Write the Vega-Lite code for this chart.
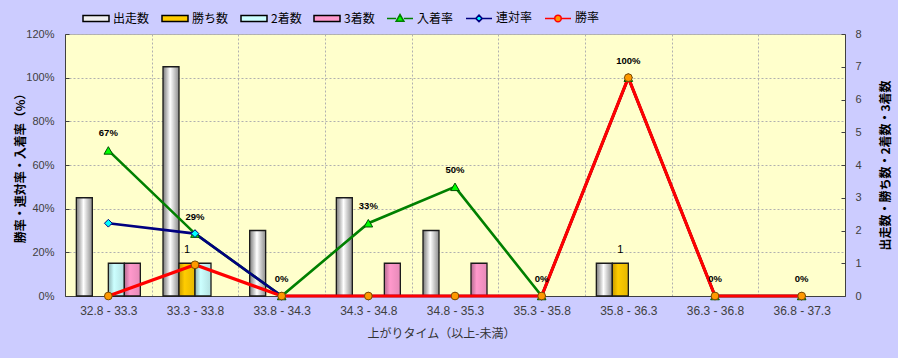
{
  "$schema": "https://vega.github.io/schema/vega-lite/v6.json",
  "width": 780,
  "height": 262,
  "autosize": {"type": "none"},
  "padding": {"left": 65, "top": 34, "right": 53, "bottom": 62},
  "background": "#CCCCFF",
  "view": {"fill": "#FFFFCC", "stroke": "#B4B4B4", "strokeWidth": 1},
  "config": {
    "view": {"fill": "#FFFFCC", "stroke": "#B4B4B4", "strokeWidth": 1},
    "axis": {
      "labelFont": "Liberation Sans",
      "labelFontSize": 11,
      "labelColor": "#404040",
      "titleFont": "Noto Sans CJK JP",
      "titleFontSize": 12,
      "titleColor": "#000000",
      "domainColor": "#404040",
      "tickColor": "#404040",
      "gridColor": "#B0B0B0",
      "gridDash": [2, 2],
      "gridWidth": 1
    }
  },
  "datasets": {
    "bars": [
      {"c": "32.8 - 33.3", "s": "出走数", "n": 3},
      {"c": "32.8 - 33.3", "s": "2着数", "n": 1},
      {"c": "32.8 - 33.3", "s": "3着数", "n": 1},
      {"c": "33.3 - 33.8", "s": "出走数", "n": 7},
      {"c": "33.3 - 33.8", "s": "勝ち数", "n": 1},
      {"c": "33.3 - 33.8", "s": "2着数", "n": 1},
      {"c": "33.8 - 34.3", "s": "出走数", "n": 2},
      {"c": "34.3 - 34.8", "s": "出走数", "n": 3},
      {"c": "34.3 - 34.8", "s": "3着数", "n": 1},
      {"c": "34.8 - 35.3", "s": "出走数", "n": 2},
      {"c": "34.8 - 35.3", "s": "3着数", "n": 1},
      {"c": "35.8 - 36.3", "s": "出走数", "n": 1},
      {"c": "35.8 - 36.3", "s": "勝ち数", "n": 1}
    ],
    "rates": [
      {"c": "32.8 - 33.3", "s": "入着率", "r": 0.6667},
      {"c": "33.3 - 33.8", "s": "入着率", "r": 0.2857},
      {"c": "33.8 - 34.3", "s": "入着率", "r": 0},
      {"c": "34.3 - 34.8", "s": "入着率", "r": 0.3333},
      {"c": "34.8 - 35.3", "s": "入着率", "r": 0.5},
      {"c": "35.3 - 35.8", "s": "入着率", "r": 0},
      {"c": "35.8 - 36.3", "s": "入着率", "r": 1},
      {"c": "36.3 - 36.8", "s": "入着率", "r": 0},
      {"c": "36.8 - 37.3", "s": "入着率", "r": 0},
      {"c": "32.8 - 33.3", "s": "連対率", "r": 0.3333},
      {"c": "33.3 - 33.8", "s": "連対率", "r": 0.2857},
      {"c": "33.8 - 34.3", "s": "連対率", "r": 0},
      {"c": "34.3 - 34.8", "s": "連対率", "r": 0},
      {"c": "34.8 - 35.3", "s": "連対率", "r": 0},
      {"c": "35.3 - 35.8", "s": "連対率", "r": 0},
      {"c": "35.8 - 36.3", "s": "連対率", "r": 1},
      {"c": "36.3 - 36.8", "s": "連対率", "r": 0},
      {"c": "36.8 - 37.3", "s": "連対率", "r": 0},
      {"c": "32.8 - 33.3", "s": "勝率", "r": 0},
      {"c": "33.3 - 33.8", "s": "勝率", "r": 0.1429},
      {"c": "33.8 - 34.3", "s": "勝率", "r": 0},
      {"c": "34.3 - 34.8", "s": "勝率", "r": 0},
      {"c": "34.8 - 35.3", "s": "勝率", "r": 0},
      {"c": "35.3 - 35.8", "s": "勝率", "r": 0},
      {"c": "35.8 - 36.3", "s": "勝率", "r": 1},
      {"c": "36.3 - 36.8", "s": "勝率", "r": 0},
      {"c": "36.8 - 37.3", "s": "勝率", "r": 0}
    ],
    "legend": [
      {"s": "出走数"}, {"s": "勝ち数"}, {"s": "2着数"}, {"s": "3着数"},
      {"s": "入着率"}, {"s": "連対率"}, {"s": "勝率"}
    ]
  },
  "layer": [
    {
      "data": {"name": "bars"},
      "encoding": {
        "x": {
          "field": "c", "type": "nominal",
          "scale": {"domain": ["32.8 - 33.3", "33.3 - 33.8", "33.8 - 34.3", "34.3 - 34.8", "34.8 - 35.3", "35.3 - 35.8", "35.8 - 36.3", "36.3 - 36.8", "36.8 - 37.3"], "paddingInner": 0, "paddingOuter": 0},
          "axis": {"title": "上がりタイム（以上-未満）", "labelAngle": 0, "labelFontSize": 12, "ticks": false, "labelPadding": 9, "grid": true, "tickBand": "extent", "titleFontWeight": "normal", "titleColor": "#333333", "titleX": 376, "titleY": 37, "titleBaseline": "middle"}
        },
        "xOffset": {"field": "s", "type": "nominal", "scale": {"domain": ["出走数", "勝ち数", "2着数", "3着数"], "paddingInner": 0, "paddingOuter": 0.708}},
        "y": {
          "field": "n", "type": "quantitative",
          "scale": {"domain": [0, 8], "nice": false},
          "axis": {"orient": "right", "values": [0, 1, 2, 3, 4, 5, 6, 7, 8], "grid": false, "tickSize": -4, "labelPadding": 14, "title": "出走数・勝ち数・2着数・3着数", "titleAngle": 270, "titleX": 40, "titleBaseline": "middle", "titleFontWeight": "bold"}
        }
      },
      "layer": [
        {
          "transform": [{"filter": "datum.s === '出走数'"}],
          "mark": {"type": "bar", "stroke": "#1a1a1a", "strokeWidth": 1.3,
            "fill": {"gradient": "linear", "x1": 0, "y1": 0, "x2": 1, "y2": 0, "stops": [{"offset": 0, "color": "#7a7a7a"}, {"offset": 0.45, "color": "#ffffff"}, {"offset": 1, "color": "#8c8c8c"}]}}
        },
        {
          "transform": [{"filter": "datum.s === '勝ち数'"}],
          "mark": {"type": "bar", "stroke": "#1a1a1a", "strokeWidth": 1.3,
            "fill": {"gradient": "linear", "x1": 0, "y1": 0, "x2": 1, "y2": 0, "stops": [{"offset": 0, "color": "#c99a00"}, {"offset": 0.35, "color": "#ffcc00"}, {"offset": 1, "color": "#e6b800"}]}}
        },
        {
          "transform": [{"filter": "datum.s === '2着数'"}],
          "mark": {"type": "bar", "stroke": "#1a1a1a", "strokeWidth": 1.3,
            "fill": {"gradient": "linear", "x1": 0, "y1": 0, "x2": 1, "y2": 0, "stops": [{"offset": 0, "color": "#8fb3b3"}, {"offset": 0.35, "color": "#ccffff"}, {"offset": 1, "color": "#b3e0e0"}]}}
        },
        {
          "transform": [{"filter": "datum.s === '3着数'"}],
          "mark": {"type": "bar", "stroke": "#1a1a1a", "strokeWidth": 1.3,
            "fill": {"gradient": "linear", "x1": 0, "y1": 0, "x2": 1, "y2": 0, "stops": [{"offset": 0, "color": "#b36b8f"}, {"offset": 0.35, "color": "#ff99cc"}, {"offset": 1, "color": "#e68ab8"}]}}
        },
        {
          "transform": [{"filter": "datum.s === '勝ち数'"}],
          "mark": {"type": "text", "font": "Liberation Sans", "fontSize": 11, "dy": -13, "baseline": "middle", "color": "#000000"},
          "encoding": {"text": {"field": "n", "type": "quantitative"}}
        }
      ]
    },
    {
      "data": {"name": "rates"},
      "encoding": {
        "x": {
          "field": "c", "type": "nominal",
          "scale": {"domain": ["32.8 - 33.3", "33.3 - 33.8", "33.8 - 34.3", "34.3 - 34.8", "34.8 - 35.3", "35.3 - 35.8", "35.8 - 36.3", "36.3 - 36.8", "36.8 - 37.3"], "paddingInner": 0, "paddingOuter": 0},
          "axis": {"title": "上がりタイム（以上-未満）", "labelAngle": 0, "labelFontSize": 12, "ticks": false, "labelPadding": 9, "grid": true, "tickBand": "extent", "titleFontWeight": "normal", "titleColor": "#333333", "titleX": 376, "titleY": 37, "titleBaseline": "middle"}
        },
        "y": {
          "field": "r", "type": "quantitative",
          "scale": {"domain": [0, 1.2], "nice": false},
          "axis": {"orient": "left", "values": [0, 0.2, 0.4, 0.6, 0.8, 1.0, 1.2], "format": ".0%", "grid": true, "tickSize": -4, "labelPadding": 15, "title": "勝率・連対率・入着率（%）", "titleAngle": 270, "titleX": -45, "titleBaseline": "middle", "titleFontWeight": "bold"}
        }
      },
      "layer": [
        {
          "data": {"values": [{"t": "©Caniの競馬データ研究室"}]},
          "mark": {"type": "text", "font": "Noto Sans CJK JP", "fontSize": 13.5, "color": "#9999FF", "dx": -17, "baseline": "middle"},
          "encoding": {"x": {"datum": "35.3 - 35.8", "type": "nominal"}, "y": {"datum": 1.12, "type": "quantitative"}, "text": {"field": "t", "type": "nominal"}}
        },
        {
          "transform": [{"filter": "datum.s === '入着率'"}],
          "mark": {"type": "line", "color": "#008000", "strokeWidth": 2.6},
          "encoding": {}
        },
        {
          "transform": [{"filter": "datum.s === '連対率'"}],
          "mark": {"type": "line", "color": "#000080", "strokeWidth": 2.6},
          "encoding": {}
        },
        {
          "transform": [{"filter": "datum.s === '勝率'"}],
          "mark": {"type": "line", "color": "#FF0000", "strokeWidth": 3.2},
          "encoding": {}
        },
        {
          "transform": [{"filter": "datum.s === '入着率'"}],
          "mark": {"type": "point", "shape": "triangle-up", "filled": true, "fill": "#00FF00", "stroke": "#005000", "strokeWidth": 1, "size": 75, "opacity": 1}
        },
        {
          "transform": [{"filter": "datum.s === '連対率'"}],
          "mark": {"type": "point", "shape": "diamond", "filled": true, "fill": "#00FFFF", "stroke": "#000080", "strokeWidth": 1, "size": 60, "opacity": 1}
        },
        {
          "transform": [{"filter": "datum.s === '勝率'"}],
          "mark": {"type": "point", "shape": "circle", "filled": true, "fill": "#FF9900", "stroke": "#7a4a00", "strokeWidth": 1, "size": 60, "opacity": 1}
        },
        {
          "transform": [{"filter": "datum.s === '入着率'"}],
          "mark": {"type": "text", "font": "Liberation Sans", "fontWeight": "bold", "fontSize": 9.5, "dy": -17, "baseline": "middle", "color": "#000000"},
          "encoding": {"text": {"field": "r", "type": "quantitative", "format": ".0%"}}
        }
      ]
    },
    {
      "data": {"name": "legend"},
      "mark": {"type": "point", "filled": true, "opacity": 0, "size": 676},
      "encoding": {
        "fill": {
          "field": "s", "type": "nominal",
          "scale": {"domain": ["出走数", "勝ち数", "2着数", "3着数", "入着率", "連対率", "勝率"], "range": ["#EFEFEF", "#FFCC00", "#CCFFFF", "#FF99CC", "#00FF00", "#00FFFF", "#FF9900"]},
          "legend": {"orient": "none", "legendX": 17, "legendY": -30, "direction": "horizontal", "columns": 7, "title": null, "labelFont": "Noto Sans CJK JP", "labelFontSize": 12, "labelColor": "#000000", "labelOffset": 3, "columnPadding": 9, "symbolSize": 676, "symbolStrokeWidth": 1.5, "symbolOpacity": 1,
            "encode": {"symbols": {"update": {"opacity": {"value": 1}, "fillOpacity": {"value": 1}, "strokeOpacity": {"value": 1}}}}}
        },
        "stroke": {
          "field": "s", "type": "nominal",
          "scale": {"domain": ["出走数", "勝ち数", "2着数", "3着数", "入着率", "連対率", "勝率"], "range": ["#000000", "#000000", "#000000", "#000000", "#008000", "#000080", "#FF0000"]}
        },
        "shape": {
          "field": "s", "type": "nominal",
          "scale": {"domain": ["出走数", "勝ち数", "2着数", "3着数", "入着率", "連対率", "勝率"], "range": [
            "M-1,-0.23H1V0.23H-1Z",
            "M-1,-0.23H1V0.23H-1Z",
            "M-1,-0.23H1V0.23H-1Z",
            "M-1,-0.23H1V0.23H-1Z",
            "M-1,0H-0.3M0.3,0H1M-0.3,0.22L0,-0.3L0.3,0.22Z",
            "M-1,0H-0.25M0.25,0H1M0,-0.25L0.25,0L0,0.25L-0.25,0Z",
            "M-1,0H-0.25M0.25,0H1M-0.25,0A0.25,0.25,0,1,0,0.25,0A0.25,0.25,0,1,0,-0.25,0Z"
          ]}
        }
      }
    }
  ],
  "resolve": {"scale": {"y": "independent"}}
}
